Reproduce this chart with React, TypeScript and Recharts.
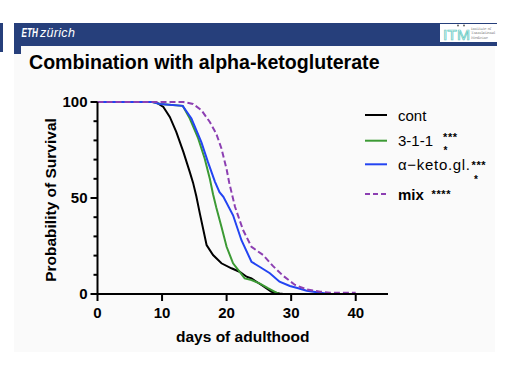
import React from 'react';
import { LineChart, Line, XAxis, YAxis, Label } from 'recharts';

const FONT = 'Liberation Sans, Arial, Helvetica, sans-serif';

// Kaplan-Meier style survival curves
const contDays = [0, 9, 10.2, 11.2, 12.2, 13.3, 14.3, 14.8, 15.3, 15.85, 16.9, 17.9, 19.2, 20.75, 22, 23.1, 23.85, 25.4, 26.95, 28.2, 28.8];
const contSurv = [100, 100, 97.4, 92.2, 84.4, 74, 63.5, 58, 51, 42, 25.5, 20.3, 16, 13.4, 11.6, 9, 8.1, 4.7, 1.2, 0.3, 0];

const grDays = [0, 8.5, 9.7, 13.2, 14.3, 15.6, 16.6, 17.4, 17.9, 18.4, 19.2, 20, 21, 22, 22.8, 23.85, 25.1, 26.4, 27.7, 28.2];
const grSurv = [100, 100, 99, 98, 91.4, 81, 70.6, 60, 52, 45, 35, 24.6, 16, 11.6, 8.1, 7.3, 5.5, 3, 0.7, 0];

const akgDays = [0, 8.5, 9.7, 13.2, 14.55, 16.1, 17.1, 18.2, 18.9, 19.5, 21, 22.3, 23.85, 25.1, 26.7, 28.2, 29.8, 31.1, 32.4, 34.5, 36];
const akgSurv = [100, 100, 99, 98, 91.4, 79, 68.8, 58.4, 53, 50.6, 41, 28, 16.8, 14.2, 10.8, 6.4, 4.2, 3, 1.7, 0.7, 0];

const mixDays = [0, 13.3, 14.8, 16.1, 17.4, 18.4, 19.2, 20, 20.4, 21.3, 22.55, 23.85, 25.65, 27.2, 28.75, 30.6, 32.4, 34.5, 36, 40];
const mixSurv = [100, 100, 99, 95.7, 89.6, 83.5, 75.8, 65, 58, 45.4, 33.3, 24.6, 20.3, 14.5, 9.5, 4.7, 2.4, 1.2, 0.7, 0.7];

const xTicks = [0, 10, 20, 30, 40];
const yTicks = [0, 10, 20, 30, 40, 50, 60, 70, 80, 90, 100];
const yLabelled = [0, 50, 100];

const seriesNames = ['cont', '3-1-1', 'α−keto.gl.', 'mix'];
const seriesColors = ['#000000', '#3c9a34', '#2344f2', '#8c3fb2'];

const toRows = (d: number[], s: number[]) => d.map((day, i) => ({ day, s: s[i] }));
const seriesData = [
  toRows(contDays, contSurv),
  toRows(grDays, grSurv),
  toRows(akgDays, akgSurv),
  toRows(mixDays, mixSurv),
];

const Y_TICK_SIZE = 7;
const Y_TICK_MARGIN = 3;

const YTick = (props: any) => {
  const { x, y, payload } = props;
  const v = payload.value;
  const major = yLabelled.includes(v);
  const axisX = x + Y_TICK_SIZE + Y_TICK_MARGIN;
  const len = major ? 7 : 4;
  return (
    <g>
      <line x1={axisX - len} x2={axisX} y1={y} y2={y} stroke="#000" strokeWidth={2} />
      {major && (
        <text x={x} y={y} dy="0.355em" textAnchor="end" fill="#000" fontSize={15} fontWeight={700} fontFamily={FONT}>
          {v}
        </text>
      )}
    </g>
  );
};

const legendY = [115, 140.7, 164.3, 194];
const STAR = { fontSize: 11, fontWeight: 700, fontFamily: FONT, letterSpacing: 0.6 } as const;
const STAR2 = { fontSize: 10, fontWeight: 700, fontFamily: FONT } as const;

export default function App() {
  return (
    <div style={{ position: 'absolute', left: 0, top: 0, width: 526, height: 392, background: '#ffffff' }}>
      <svg width={526} height={392} style={{ position: 'absolute', left: 0, top: 0 }}>
        <rect x={14} y={46} width={481} height={306} fill="#fafafa" />
        <rect x={0} y={23} width={3} height={29} fill="#263f7b" />
        <rect x={14} y={23} width={483} height={23} fill="#263f7b" />
        <rect x={14} y={44} width={7} height={10} fill="#263f7b" />
        <text transform="translate(21.5 37) scale(0.68 1)" x={0} y={0} fill="#fff" fontSize={12} fontWeight={900} fontStyle="italic" fontFamily={FONT}>ETH</text>
        <text x={40} y={37} fill="#fff" fontSize={12.5} fontStyle="italic" fontFamily={FONT} letterSpacing={0.3}>zürich</text>
        <rect x={440} y={24} width={57} height={18} fill="#ffffff" />
        <text x={443} y={39.5} fill="none" stroke="#5cc8c0" strokeWidth={0.7} fontSize={15} fontFamily={FONT} textLength={27} lengthAdjust="spacingAndGlyphs">ITM</text>
        <circle cx={458} cy={25.5} r={1} fill="#666" />
        <circle cx={464} cy={25.5} r={1} fill="#666" />
        <text x={471} y={29.5} fill="#777" fontSize={3.6} fontFamily="DejaVu Serif, serif">Institute of</text>
        <text x={471} y={34} fill="#777" fontSize={3.6} fontFamily="DejaVu Serif, serif">Translational</text>
        <text x={471} y={38.5} fill="#777" fontSize={3.6} fontFamily="DejaVu Serif, serif">Medicine</text>
        <text x={29} y={68.5} fill="#000" fontSize={19.6} fontWeight={700} fontFamily={FONT}>Combination with alpha-ketogluterate</text>

        {seriesNames.map((n, i) => (
          <g key={n}>
            <line x1={365} x2={387} y1={legendY[i]} y2={legendY[i]} stroke={seriesColors[i]} strokeWidth={2} strokeDasharray={i === 3 ? '5 3' : undefined} />
            <text
              x={398}
              y={legendY[i] + 5.5}
              fill="#000"
              fontSize={15}
              fontWeight={i === 3 ? 700 : 400}
              fontFamily={FONT}
              {...(i === 2 ? { textLength: 72, lengthAdjust: 'spacing' } : {})}
            >
              {n}
            </text>
          </g>
        ))}
        <text x={443} y={140.5} {...STAR}>***</text>
        <text x={443.5} y={153.6} {...STAR2}>*</text>
        <text x={471.5} y={168.8} {...STAR}>***</text>
        <text x={474} y={182.5} {...STAR2}>*</text>
        <text x={431.5} y={197.5} {...STAR}>****</text>
      </svg>
      <div style={{ position: 'absolute', left: 0, top: 0 }}>
        <LineChart width={526} height={392} margin={{ top: 102, right: 138, bottom: 68, left: 0 }}>
          <XAxis
            type="number"
            dataKey="day"
            domain={[0, 45]}
            ticks={xTicks}
            allowDataOverflow
            height={30}
            tickSize={7}
            tickMargin={6}
            axisLine={{ stroke: '#000', strokeWidth: 2 }}
            tickLine={{ stroke: '#000', strokeWidth: 2 }}
            tick={{ fill: '#000', fontSize: 15, fontWeight: 700, fontFamily: FONT }}
          >
            <Label
              value="days of adulthood"
              position="bottom"
              offset={7}
              fill="#000"
              fontSize={15.5}
              fontWeight={700}
              fontFamily={FONT}
            />
          </XAxis>
          <YAxis
            type="number"
            domain={[0, 100]}
            ticks={yTicks}
            width={97.5}
            tickSize={Y_TICK_SIZE}
            tickMargin={Y_TICK_MARGIN}
            axisLine={{ stroke: '#000', strokeWidth: 2 }}
            tickLine={false}
            tick={<YTick />}
            interval={0}
          >
            <Label
              content={(p: any) => {
                const vb = p.viewBox;
                const cx = vb.x + 50;
                const cy = vb.y + vb.height / 2 + 2;
                return (
                  <text
                    x={cx}
                    y={cy}
                    dy="0.355em"
                    textAnchor="middle"
                    transform={`rotate(-90 ${cx} ${cy})`}
                    fill="#000"
                    fontSize={15.5}
                    fontWeight={700}
                    fontFamily={FONT}
                  >
                    Probability of Survival
                  </text>
                );
              }}
            />
          </YAxis>
          {seriesData.map((d, i) => (
            <Line
              key={seriesNames[i]}
              data={d}
              dataKey="s"
              type="linear"
              stroke={seriesColors[i]}
              strokeWidth={2}
              strokeDasharray={i === 3 ? '6 3' : undefined}
              dot={false}
              activeDot={false}
              isAnimationActive={false}
            />
          ))}
        </LineChart>
      </div>
    </div>
  );
}
